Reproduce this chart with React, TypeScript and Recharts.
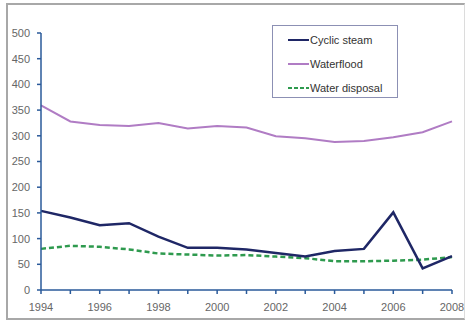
import React from 'react';
import { LineChart, Line, XAxis, YAxis } from 'recharts';

const years = [1994, 1995, 1996, 1997, 1998, 1999, 2000, 2001, 2002, 2003, 2004, 2005, 2006, 2007, 2008];
const cyclicSteam = [154, 141, 126, 130, 104, 82, 82, 79, 72, 65, 76, 80, 151, 42, 66];
const waterflood = [359, 328, 321, 319, 325, 314, 319, 316, 299, 295, 288, 290, 297, 307, 328];
const waterDisposal = [80, 86, 84, 79, 71, 69, 67, 68, 65, 62, 56, 56, 57, 59, 64];
const yTicks = [0, 50, 100, 150, 200, 250, 300, 350, 400, 450, 500];
const xLabelYears = [1994, 1996, 1998, 2000, 2002, 2004, 2006, 2008];

const seriesNames = ['Cyclic steam', 'Waterflood', 'Water disposal'];

const data = years.map((y, i) => ({
  year: y,
  cyclic: cyclicSteam[i],
  waterflood: waterflood[i],
  disposal: waterDisposal[i],
}));

const COLORS = { cyclic: '#1f2766', waterflood: '#b07cc4', disposal: '#2e9a4e' };
const AXIS = '#2a5a9a';
const FONT = 'Liberation Sans, Arial, sans-serif';

const LegendBox = () => {
  const items = [
    { name: seriesNames[0], color: COLORS.cyclic, dash: undefined as string | undefined },
    { name: seriesNames[1], color: COLORS.waterflood, dash: undefined },
    { name: seriesNames[2], color: COLORS.disposal, dash: '4 2' },
  ];
  return (
    <div
      style={{
        position: 'absolute',
        left: 272,
        top: 25,
        width: 126,
        height: 73,
        border: '1px solid #8c90b4',
        background: '#fff',
        boxSizing: 'border-box',
        paddingTop: 2,
        fontFamily: FONT,
        fontSize: 11,
        color: '#333',
      }}
    >
      {items.map((it) => (
        <div key={it.name} style={{ display: 'flex', alignItems: 'center', height: 24, paddingLeft: 15 }}>
          <svg width={21} height={6} style={{ display: 'block' }}>
            <line x1={0} y1={3} x2={21} y2={3} stroke={it.color} strokeWidth={2} strokeDasharray={it.dash} />
          </svg>
          <span style={{ marginLeft: 1 }}>{it.name}</span>
        </div>
      ))}
    </div>
  );
};

export default function App() {
  return (
    <div style={{ position: 'absolute', left: 0, top: 0, width: 467, height: 322, background: '#fff' }}>
      <div
        style={{
          position: 'absolute',
          left: 6,
          top: 3,
          width: 459,
          height: 317,
          border: '2px solid #a8a8a8',
          borderRight: '1px solid #dcdcdc',
          boxSizing: 'border-box',
        }}
      />
      <div style={{ position: 'absolute', left: 0, top: 0 }}>
        <LineChart width={467} height={322} data={data} margin={{ top: 33, right: 15, left: 0, bottom: 7 }}>
          <XAxis
            dataKey="year"
            type="number"
            domain={[1994, 2008]}
            ticks={years}
            interval={0}
            tickFormatter={(v: number) => (xLabelYears.includes(v) ? String(v) : '')}
            height={25}
            tickSize={4}
            tickMargin={9}
            axisLine={{ stroke: AXIS, strokeWidth: 1.5 }}
            tickLine={{ stroke: AXIS, strokeWidth: 1.5 }}
            tick={{ fill: '#666', fontSize: 11, fontFamily: FONT }}
          />
          <YAxis
            domain={[0, 500]}
            ticks={yTicks}
            interval={0}
            width={41}
            tickSize={4}
            tickMargin={7}
            axisLine={{ stroke: AXIS, strokeWidth: 1.5 }}
            tickLine={{ stroke: AXIS, strokeWidth: 1.5 }}
            tick={{ fill: '#666', fontSize: 11, fontFamily: FONT }}
          />
          <Line
            name={seriesNames[1]}
            dataKey="waterflood"
            stroke={COLORS.waterflood}
            strokeWidth={2}
            dot={false}
            isAnimationActive={false}
          />
          <Line
            name={seriesNames[2]}
            dataKey="disposal"
            stroke={COLORS.disposal}
            strokeWidth={2.5}
            strokeDasharray="5 3"
            dot={false}
            isAnimationActive={false}
          />
          <Line
            name={seriesNames[0]}
            dataKey="cyclic"
            stroke={COLORS.cyclic}
            strokeWidth={2.5}
            dot={false}
            isAnimationActive={false}
          />
        </LineChart>
      </div>
      <LegendBox />
    </div>
  );
}
